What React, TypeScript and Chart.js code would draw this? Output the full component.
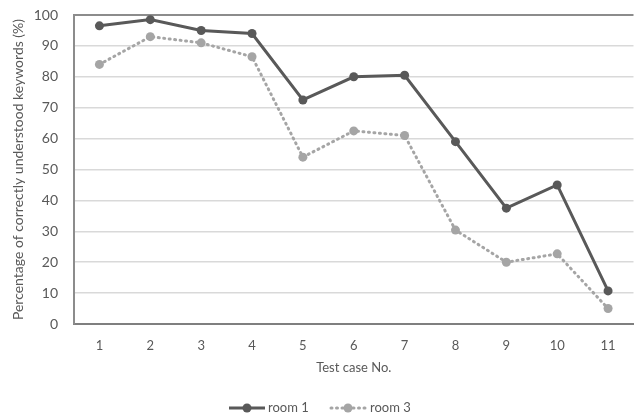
import React, { useEffect, useRef } from "react";
import { Chart, registerables } from "chart.js";

Chart.register(...registerables);

const testCases = ["1", "2", "3", "4", "5", "6", "7", "8", "9", "10", "11"];
const room1 = [96.5, 98.5, 95, 94, 72.5, 80, 80.5, 59, 37.5, 45, 10.7];
const room3 = [84, 93, 91, 86.5, 54, 62.5, 61, 30.4, 20, 22.7, 5];
const yTicks = [0, 10, 20, 30, 40, 50, 60, 70, 80, 90, 100];

const FONT = "Lato, 'Open Sans', sans-serif";
const C1 = "#595959";
const C3 = "#a5a5a5";
const TXT = "#595959";

const legendPlugin = {
  id: "customLegend",
  afterDraw(chart: any) {
    const ctx = chart.ctx;
    const y = 408;
    ctx.save();
    ctx.font = `13px ${FONT}`;
    ctx.textBaseline = "middle";
    ctx.fillStyle = TXT;
    // room 1
    ctx.strokeStyle = C1;
    ctx.lineWidth = 3;
    ctx.setLineDash([]);
    ctx.beginPath();
    ctx.moveTo(229, y);
    ctx.lineTo(265, y);
    ctx.stroke();
    ctx.fillStyle = C1;
    ctx.beginPath();
    ctx.arc(247, y, 4.5, 0, Math.PI * 2);
    ctx.fill();
    ctx.fillStyle = TXT;
    ctx.fillText("room 1", 268, y);
    // room 3
    ctx.strokeStyle = C3;
    ctx.lineCap = "round";
    ctx.setLineDash([1, 4.5]);
    ctx.beginPath();
    ctx.moveTo(331, y);
    ctx.lineTo(366, y);
    ctx.stroke();
    ctx.setLineDash([]);
    ctx.fillStyle = C3;
    ctx.beginPath();
    ctx.arc(348, y, 4.5, 0, Math.PI * 2);
    ctx.fill();
    ctx.fillStyle = TXT;
    ctx.fillText("room 3", 370, y);
    ctx.restore();
  },
};

const bgPlugin = {
  id: "bg",
  beforeDraw(chart: any) {
    const ctx = chart.ctx;
    ctx.save();
    ctx.fillStyle = "#ffffff";
    ctx.fillRect(0, 0, chart.width, chart.height);
    ctx.restore();
  },
};

export default function App() {
  const ref = useRef<HTMLCanvasElement>(null);
  useEffect(() => {
    if (!ref.current) return;
    const chart = new Chart(ref.current, {
      type: "line",
      data: {
        labels: testCases,
        datasets: [
          {
            label: "room 1",
            data: room1,
            borderColor: C1,
            backgroundColor: C1,
            borderWidth: 3,
            pointRadius: 4.5,
            pointBorderWidth: 0,
            pointBackgroundColor: C1,
            tension: 0,
          },
          {
            label: "room 3",
            data: room3,
            borderColor: C3,
            backgroundColor: C3,
            borderWidth: 3,
            borderDash: [1, 4.5],
            borderCapStyle: "round",
            pointRadius: 4.5,
            pointBorderWidth: 0,
            pointBackgroundColor: C3,
            tension: 0,
          },
        ],
      },
      options: {
        responsive: false,
        animation: false,
        layout: { padding: { top: 15, left: 0, right: 0, bottom: 33 } },
        plugins: {
          legend: { display: false },
          tooltip: { enabled: false },
        },
        scales: {
          x: {
            offset: true,
            grid: { display: false, drawTicks: false },
            border: { display: true, color: "#7f7f7f", width: 2 },
            ticks: {
              color: TXT,
              font: { family: FONT, size: 13 },
              padding: 14,
            },
            title: {
              display: true,
              text: "Test case No.",
              color: TXT,
              font: { family: FONT, size: 13 },
              padding: { top: 0, bottom: 8 },
            },
            afterFit: (s: any) => {
              s.height = 60;
            },
          },
          y: {
            min: 0,
            max: 100,
            afterBuildTicks: (s: any) => {
              s.ticks = yTicks.map((v) => ({ value: v }));
            },
            grid: {
              drawTicks: false,
              color: (c: any) => (c.tick && c.tick.value === 100 ? "#8c8c8c" : "#d9d9d9"),
              lineWidth: (c: any) => (c.tick && c.tick.value === 100 ? 2 : 1.5),
            },
            border: { display: true, color: "#8c8c8c", width: 2 },
            ticks: {
              color: TXT,
              font: { family: FONT, size: 14 },
              padding: 16,
            },
            title: {
              display: true,
              text: "Percentage of correctly understood keywords (%)",
              color: TXT,
              font: { family: FONT, size: 14 },
              padding: { top: 10, bottom: 0 },
            },
            afterFit: (s: any) => {
              s.width = 74;
              s.paddingTop = 0;
              s.paddingBottom = 0;
            },
          },
        },
      },
      plugins: [bgPlugin, legendPlugin],
    });
    return () => chart.destroy();
  }, []);
  return (
    <canvas
      ref={ref}
      width={638}
      height={417}
      style={{ position: "fixed", left: 0, top: 0, display: "block" }}
    />
  );
}
